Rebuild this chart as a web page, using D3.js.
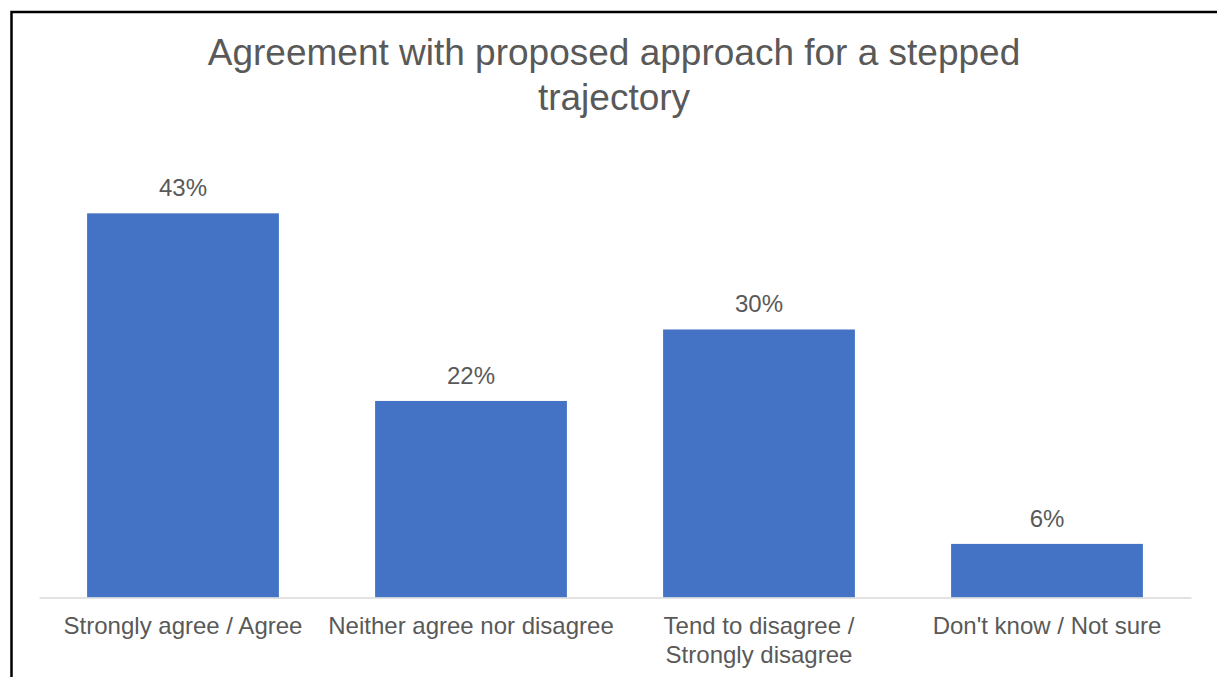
<!DOCTYPE html>
<html>
<head>
<meta charset="utf-8">
<script src="https://cdn.jsdelivr.net/npm/d3@7"></script>
<style>
  body { margin: 0; background: #fff; }
  svg { display: block; font-family: "Liberation Sans", Arial, sans-serif; }
</style>
</head>
<body>
<div id="chart"></div>
<script>
// Chart data
const categories = ['Strongly agree / Agree', 'Neither agree nor disagree', 'Tend to disagree / Strongly disagree', "Don't know / Not sure"];
const shares = [0.43, 0.22, 0.30, 0.06];
const titleLines = ['Agreement with proposed approach for a stepped', 'trajectory'];

const W = 1217, H = 677;
const margin = { top: 150.8, right: 26, bottom: 79.5, left: 39 };
const width = W - margin.left - margin.right;
const height = H - margin.top - margin.bottom;
const textColor = '#595959';

const root = d3.select('#chart')
    .append('svg')
    .attr('width', W)
    .attr('height', H);

// Outer frame (only left and top edges visible)
root.append('path')
    .attr('d', `M11.5,${H} V12 H${W}`)
    .attr('fill', 'none')
    .attr('stroke', '#000')
    .attr('stroke-width', 2.5);

// Title
root.append('text')
    .attr('x', 612)
    .attr('y', 65)
    .attr('text-anchor', 'middle')
    .style('font-size', '37px')
    .style('fill', textColor)
    .selectAll('tspan')
    .data(titleLines)
    .enter()
    .append('tspan')
    .attr('x', 614)
    .attr('dy', (d, i) => i === 0 ? 0 : 45)
    .text(d => d);

const svg = root.append('g')
    .attr('transform', `translate(${margin.left},${margin.top})`);

// Scales
const x = d3.scaleBand()
    .domain(categories)
    .range([0, width])
    .paddingInner(0.334)
    .paddingOuter(0.167);

const y = d3.scaleLinear()
    .domain([0, 0.5])
    .range([height, 0]);

// Bars
svg.selectAll('.bar')
    .data(categories)
    .enter()
    .append('rect')
    .attr('class', 'bar')
    .attr('x', d => x(d))
    .attr('width', x.bandwidth())
    .attr('y', (d, i) => y(shares[i]))
    .attr('height', (d, i) => height - y(shares[i]))
    .attr('fill', '#4472C4');

// Value labels
svg.selectAll('.bar-label')
    .data(categories)
    .enter()
    .append('text')
    .attr('class', 'bar-label')
    .attr('x', d => x(d) + x.bandwidth() / 2)
    .attr('y', (d, i) => y(shares[i]) - 17)
    .attr('text-anchor', 'middle')
    .style('font-size', '24px')
    .style('fill', textColor)
    .text((d, i) => d3.format('.0%')(shares[i]));

// X axis
const xAxis = svg.append('g')
    .attr('class', 'axis')
    .attr('transform', `translate(0,${height})`)
    .call(d3.axisBottom(x).tickSize(0).tickSizeOuter(0).tickPadding(0));

xAxis.select('.domain')
    .attr('stroke', '#D9D9D9')
    .attr('stroke-width', 1.5);

xAxis.selectAll('.tick text')
    .attr('font-family', null)
    .style('font-size', '24px')
    .style('fill', textColor)
    .attr('dy', null)
    .attr('y', 36)
    .call(wrap, x.step());

// Labels wider than a band are split after the slash
function wrap(texts, maxWidth) {
    texts.each(function() {
        const text = d3.select(this);
        const label = text.text();
        if (this.getComputedTextLength() <= maxWidth || label.indexOf('/') < 0) return;
        const cut = label.indexOf('/') + 1;
        const lines = [label.slice(0, cut), label.slice(cut).trim()];
        const yPos = +text.attr('y');
        text.text(null);
        lines.forEach((line, i) => {
            text.append('tspan')
                .attr('x', 0)
                .attr('y', yPos + i * 29)
                .text(line);
        });
    });
}
</script>
</body>
</html>
